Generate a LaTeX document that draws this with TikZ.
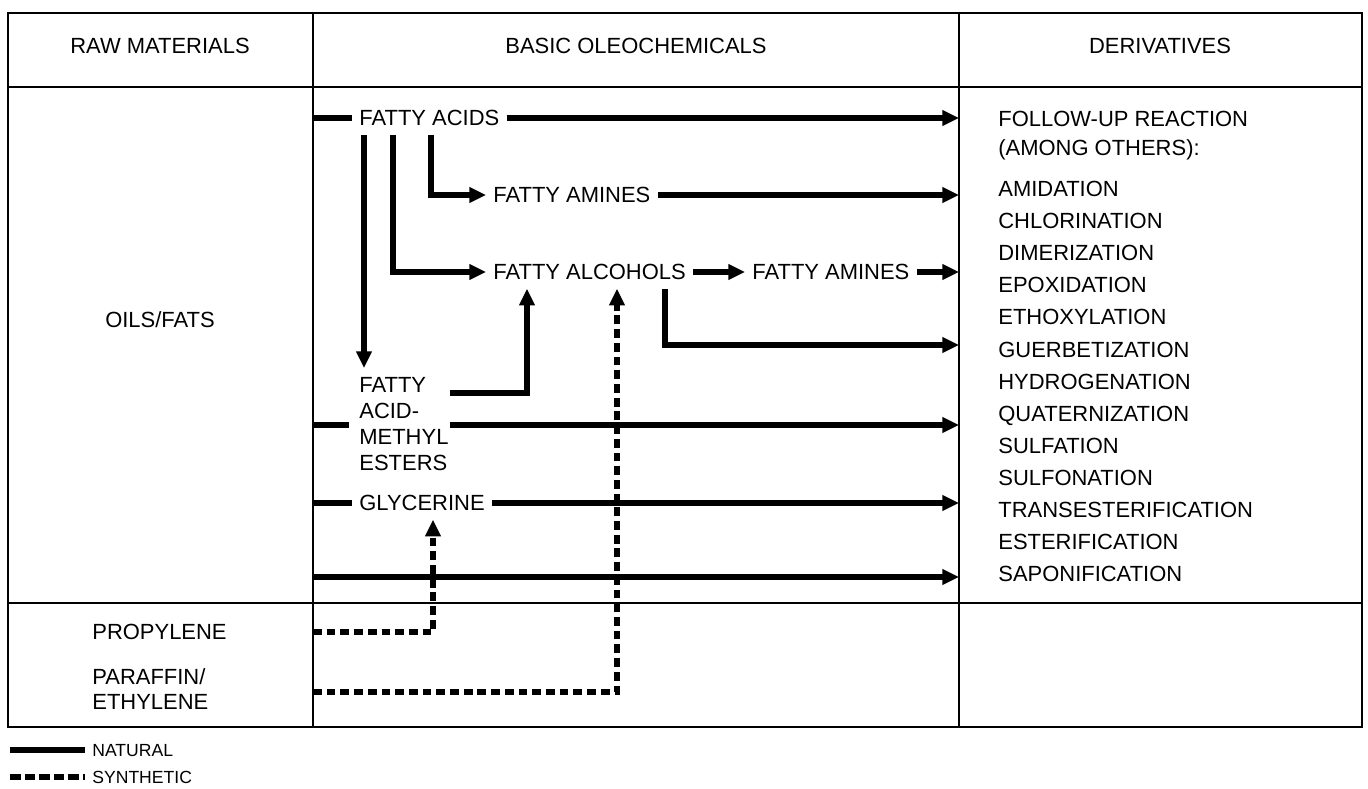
\documentclass[tikz,border=0pt]{standalone}
\usepackage{fontspec}
\setmainfont{Liberation Sans}
\usetikzlibrary{calc,arrows.meta}

\tikzset{
  tbl/.style={line width=1.1pt},
  nat/.style={line width=3.2pt},
  syn/.style={line width=3.2pt,dash pattern=on 5pt off 2.8pt},
  lbl/.style={anchor=west,inner xsep=4pt,inner ysep=5pt,text height=8.6pt,text depth=0pt},
}

\begin{document}
\begin{tikzpicture}[x=0.02cm,y=-0.02cm,>={Triangle[length=9.5pt,width=8.5pt]},font=\fontsize{12.5}{15}\selectfont]
\useasboundingbox (0,0) rectangle (1368,788);
% 表格
\draw[tbl] (8,13) rectangle (1362,727);
\draw[tbl] (8,87) -- (1362,87);
\draw[tbl] (8,603) -- (1362,603);
\draw[tbl] (313,13) -- (313,727);
\draw[tbl] (959,13) -- (959,727);
\coordinate (lcol) at (313,0);
\coordinate (rcol) at (959,0);
% 表头
\node (hraw) at (160,46) {RAW MATERIALS};
\node (hbasic) at (636,46) {BASIC OLEOCHEMICALS};
\node (hder) at (1160,46) {DERIVATIVES};
% 原料
\node (oils) at (160,320) {OILS/FATS};
\node[lbl] (prop) at (85,632) {PROPYLENE};
\node[anchor=north west,align=left,inner sep=0pt,font=\fontsize{12.5}{14.2}\selectfont] (paraf) at (92,668) {PARAFFIN/\\ETHYLENE};
% 基础油脂化学品
\node[lbl] (acids) at (352,118) {FATTY ACIDS};
\node[lbl] (amines1) at (486,195) {FATTY AMINES};
\node[lbl] (alc) at (486,272) {FATTY ALCOHOLS};
\node[lbl] (amines2) at (745,272) {FATTY AMINES};
\node[anchor=north west,align=left,inner xsep=4pt,inner ysep=5pt,font=\fontsize{12.5}{14.8}\selectfont] (fame) at (352,368) {FATTY\\ACID-\\METHYL\\ESTERS};
\node[lbl] (glyc) at (352,503) {GLYCERINE};
\coordinate (fmid) at ($(fame.north west)+(0,57)$);
\coordinate (direct) at (313,577);
% 衍生物
\node[anchor=north west,align=left,inner sep=0pt,font=\fontsize{12.5}{16.5}\selectfont] (follow) at (998,111) {FOLLOW-UP REACTION\\(AMONG OTHERS):};
\node[anchor=north west,align=left,inner sep=0pt,font=\fontsize{12.5}{18.25}\selectfont] (react) at (998,181) {AMIDATION\\CHLORINATION\\DIMERIZATION\\EPOXIDATION\\ETHOXYLATION\\GUERBETIZATION\\HYDROGENATION\\QUATERNIZATION\\SULFATION\\SULFONATION\\TRANSESTERIFICATION\\ESTERIFICATION\\SAPONIFICATION};
% 天然路线
\draw[nat] (acids.west -| lcol) -- (acids.west);
\draw[nat,->] (acids.east) -- (acids.east -| rcol);
\draw[nat,->] ($(acids.south west)+(79,0)$) |- (amines1.west);
\draw[nat,->] (amines1.east) -- (amines1.east -| rcol);
\draw[nat,->] ($(acids.south west)+(41,0)$) |- (alc.west);
\draw[nat,->] (alc.east) -- (amines2.west);
\draw[nat,->] (amines2.east) -- (amines2.east -| rcol);
\draw[nat,->] ($(alc.south west)+(179,0)$) |- ($(rcol)+(0,345)$);
\draw[nat,->] ($(acids.south west)+(12,0)$) -- ($(fame.north west)+(12,0)$);
\draw[nat,->] ($(fmid)+(98,-32)$) -| ($(alc.south west)+(41,0)$);
\draw[nat] (fmid -| lcol) -- ($(fmid)+(-3,0)$);
\draw[nat,->] ($(fmid)+(98,0)$) -- (fmid -| rcol);
\draw[nat] (glyc.west -| lcol) -- (glyc.west);
\draw[nat,->] (glyc.east) -- (glyc.east -| rcol);
\draw[nat,->] (direct) -- (direct -| rcol);
% 合成路线
\draw[syn,->] (prop -| lcol) -| ($(glyc.south west)+(81,0)$);
\draw[syn,->] ($(paraf.west -| lcol)+(0,3)$) -| ($(alc.south west)+(131,0)$);
% 图例
\node[lbl,font=\fontsize{10}{12}\selectfont,text height=6.9pt] (natural) at (85,750) {NATURAL};
\node[lbl,font=\fontsize{10}{12}\selectfont,text height=6.9pt] (synthetic) at (85,777) {SYNTHETIC};
\draw[nat] ($(natural.west)+(-75,0)$) -- (natural.west);
\draw[syn,dash pattern=on 6pt off 2.3pt] ($(synthetic.west)+(-75,0)$) -- (synthetic.west);
\end{tikzpicture}
\end{document}
